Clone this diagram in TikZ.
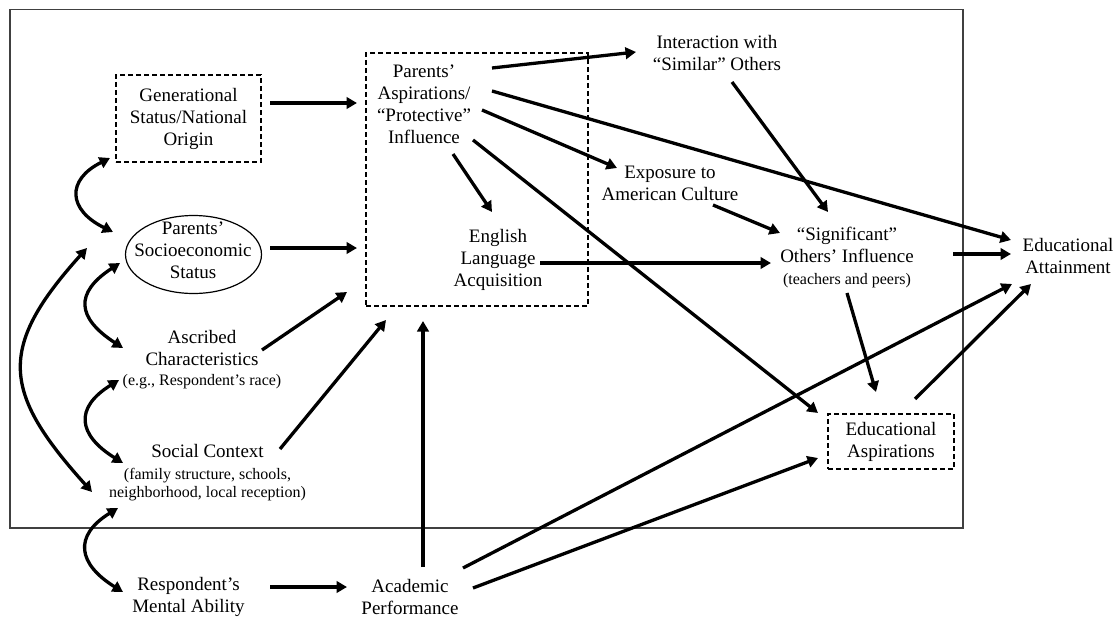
\documentclass[tikz,border=0pt]{standalone}
\usepackage{fontspec}
\setmainfont{Liberation Serif}
\usetikzlibrary{arrows.meta,shapes.geometric}
\newcommand\smallnote[1]{{\fontsize{16}{18}\selectfont #1}}
\begin{document}
\begin{tikzpicture}[x=1pt,y=-1pt,
  every node/.style={font=\fontsize{19}{22}\selectfont, align=center, inner sep=0pt},
  arr/.style={line width=3.3pt, -{Triangle[length=10.5pt,width=11.5pt]}},
  link/.style={line width=3.3pt, {Triangle[length=10.5pt,width=11.5pt]}-{Triangle[length=10.5pt,width=11.5pt]}},
  dbox/.style={draw, line width=1.9pt, dash pattern=on 5pt off 3pt},
  frame/.style={draw=black!75, line width=1.4pt}]

\fill[white] (0,0) rectangle (1119,618);
\useasboundingbox (0,0) rectangle (1119,618);

% enclosing frame
\draw[frame] (10,9.5) rectangle (963,528);

% boxes and labels
\node[dbox, minimum width=145pt, minimum height=87pt] (gen) at (188.5,118.5)
  {Generational\\Status/National\\Origin};
\node[draw, ellipse, line width=1.2pt, minimum width=136pt, minimum height=78pt] (ses) at (193.5,254.5) {};
\node (sestext) at (193,250) {Parents’\\Socioeconomic\\Status};
\node (asc) at (202,360) {Ascribed\\Characteristics\\[-2pt]\smallnote{(e.g., Respondent’s race)}};
\node (soc) at (207.5,473) {Social Context\\\smallnote{(family structure, schools,}\\[-4pt]\smallnote{neighborhood, local reception)}};
\node (mental) at (188.5,597) {Respondent’s\\Mental Ability};
\node (acad) at (410,597) {Academic\\Performance};

\node[dbox, minimum width=222pt, minimum height=253pt] (paraspbox) at (477,179.5) {};
\node (parasp) at (424,104) {Parents’\\Aspirations/\\“Protective”\\Influence};
\node (eng) at (498,260) {English\\Language\\Acquisition};

\node (inter) at (717,53) {Interaction with\\“Similar” Others};
\node (expo) at (670,183) {Exposure to\\American Culture};
\node (sig) at (847,258) {“Significant”\\Others’ Influence\\\smallnote{(teachers and peers)}};
\node (att) at (1068,256) {Educational\\Attainment};
\node[dbox, minimum width=126pt, minimum height=55pt] (easp) at (891,441.5) {Educational\\Aspirations};

% directed paths
\draw[arr] ([shift={(81.5,-15.5)}]gen.center) -- ([shift={(-120,-76.5)}]paraspbox.center);
\draw[arr] ([shift={(76.5,-6.5)}]ses.center) -- ([shift={(-120,68.5)}]paraspbox.center);
\draw[arr] ([shift={(60,-10)}]asc.center) -- ([shift={(-130,112.5)}]paraspbox.center);
\draw[arr] ([shift={(72.5,-24)}]soc.center) -- ([shift={(-91,140.5)}]paraspbox.center);
\draw[arr] ([shift={(13,-30)}]acad.center) -- ([shift={(-54,141.5)}]paraspbox.center);
\draw[arr] ([shift={(81.5,-10)}]mental.center) -- ([shift={(-63,-10)}]acad.center);

\draw[arr] ([shift={(68,-36)}]parasp.center) -- ([shift={(-81,-1)}]inter.center);
\draw[arr] ([shift={(68,-13)}]parasp.center) -- ([shift={(-57,-16)}]att.center);
\draw[arr] ([shift={(58,6)}]parasp.center) -- ([shift={(-53,-15)}]expo.center);
\draw[arr] ([shift={(29,50)}]parasp.center) -- ([shift={(-6,-48)}]eng.center);
\draw[arr] ([shift={(49,36)}]parasp.center) -- ([shift={(-73,-28.5)}]easp.center);

\draw[arr] ([shift={(42,3)}]eng.center) -- ([shift={(-76,5)}]sig.center);
\draw[arr] ([shift={(15,29)}]inter.center) -- ([shift={(-19,-46)}]sig.center);
\draw[arr] ([shift={(43,22)}]expo.center) -- ([shift={(-67,-25)}]sig.center);
\draw[arr] ([shift={(106,-4)}]sig.center) -- ([shift={(-57,-2)}]att.center);
\draw[arr] ([shift={(0,35)}]sig.center) -- ([shift={(-15,-49.5)}]easp.center);
\draw[arr] ([shift={(24,-42.5)}]easp.center) -- ([shift={(-37,28)}]att.center);
\draw[arr] ([shift={(53,-29)}]acad.center) -- ([shift={(-56,28)}]att.center);
\draw[arr] ([shift={(63,-9)}]acad.center) -- ([shift={(-73,16.5)}]easp.center);

% correlations among background factors
\draw[link] ([shift={(-78.5,39.5)}]gen.center) .. controls +(-44,22) and +(-45,-22) .. ([shift={(-80.5,-22.5)}]ses.center);
\draw[link] ([shift={(-106.5,-6.5)}]ses.center) .. controls +(-90,100) and +(-90,-100) .. ([shift={(-115.5,19)}]soc.center);
\draw[link] ([shift={(-73.5,8.5)}]ses.center) .. controls +(-46,30) and +(-46,-30) .. ([shift={(-79,-12)}]asc.center);
\draw[link] ([shift={(-83,20)}]asc.center) .. controls +(-45,28) and +(-45,-28) .. ([shift={(-84.5,-10)}]soc.center);
\draw[link] ([shift={(-89.5,35)}]soc.center) .. controls +(-45,28) and +(-45,-28) .. ([shift={(-65.5,-5)}]mental.center);
\end{tikzpicture}
\end{document}
